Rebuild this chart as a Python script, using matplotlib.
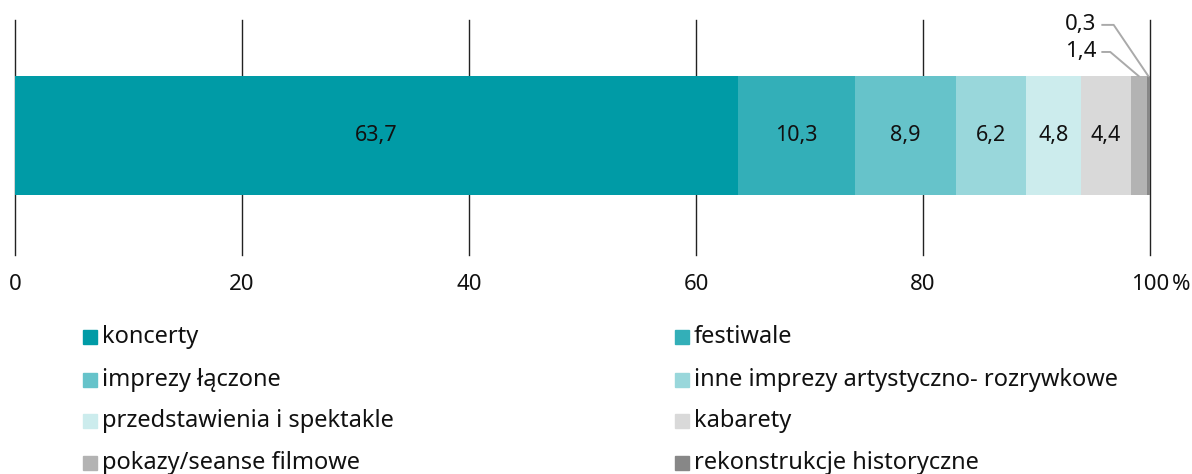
import numpy as np
import matplotlib
matplotlib.use("Agg")
import matplotlib.pyplot as plt
from matplotlib.patches import Rectangle

# Data
categories = ["koncerty", "festiwale", "imprezy łączone",
              "inne imprezy artystyczno- rozrywkowe",
              "przedstawienia i spektakle", "kabarety",
              "pokazy/seanse filmowe", "rekonstrukcje historyczne"]
values = [63.7, 10.3, 8.9, 6.2, 4.8, 4.4, 1.4, 0.3]
value_labels = ["63,7", "10,3", "8,9", "6,2", "4,8", "4,4", "1,4", "0,3"]
colors = ["#009ba6", "#33afb8", "#66c3ca", "#99d7db", "#cceced",
          "#d9d9d9", "#b3b3b3", "#878787"]
xticks = [0, 20, 40, 60, 80, 100]
xtick_labels = ["0", "20", "40", "60", "80", "100"]

plt.rcParams['font.family'] = ['Noto Sans', 'DejaVu Sans']

W, H = 1192, 474
fig = plt.figure(figsize=(W / 100, H / 100), dpi=100)

# axes placed in pixel terms: x 15..1150, y 20..255 (from top)
ax = fig.add_axes([15 / W, 1 - 255 / H, (1150 - 15) / W, (255 - 20) / H])
ax.set_xlim(0, 100)
ax.set_ylim(-1.0, 0.97)

for x in xticks:
    ax.axvline(x, color="#222222", lw=1, zorder=0, clip_on=False)

left = 0
lefts = []
for v, c in zip(values, colors):
    ax.barh(0, v, left=left, height=1.0, color=c, zorder=2)
    lefts.append(left)
    left += v

# labels inside the bar (all but the two smallest)
for i in range(6):
    ax.text(lefts[i] + values[i] / 2, 0, value_labels[i], ha="center",
            va="center", fontsize=15.5, color="#111111", zorder=3)

# leader labels for the smallest segments
callouts = [(6, 0.702, 95.3, 96.5), (7, 0.929, 95.3, 96.8)]
for idx, ty, tx, kx in callouts:
    cx = lefts[idx] + values[idx] / 2
    ax.plot([tx + 0.5, kx, cx], [ty, ty, 0.5], color="#aaaaaa", lw=1.4,
            zorder=3, clip_on=False)
    ax.text(tx, ty, value_labels[idx], ha="right", va="center",
            fontsize=16, color="#111111")

ax.set_yticks([])
ax.set_xticks(xticks)
ax.set_xticklabels(xtick_labels, fontsize=16, color="#111111")
ax.tick_params(axis="x", length=0, pad=14)
for s in ax.spines.values():
    s.set_visible(False)
fig.text(1172 / W, 1 - 284 / H, "%", fontsize=16, ha="left", va="center",
         color="#111111")

# legend drawn manually, rows first
col_x = [83, 675]
row_y = [337, 380, 421, 463]
for i, (name, c) in enumerate(zip(categories, colors)):
    r, col = divmod(i, 2)
    x0 = col_x[col]
    y0 = row_y[r]
    fig.add_artist(Rectangle((x0 / W, 1 - (y0 + 7) / H), 14 / W, 14 / H,
                             transform=fig.transFigure, color=c))
    fig.text((x0 + 19) / W, 1 - y0 / H, name, fontsize=17,
             ha="left", va="center", color="#111111")

fig.savefig("out.png", dpi=100)
